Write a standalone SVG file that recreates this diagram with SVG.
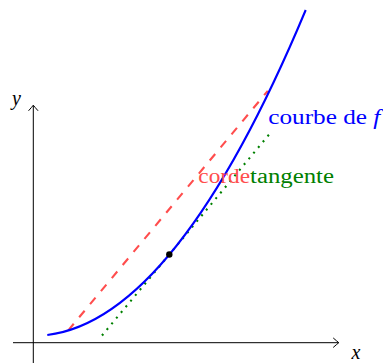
<svg xmlns="http://www.w3.org/2000/svg" width="383" height="363" viewBox="0 0 383 363">
  <style>
    .axis { stroke: #000; stroke-width: 1; fill: none; }
    .tip { stroke: #000; stroke-width: 1; fill: none; stroke-linecap: round; stroke-linejoin: round; }
    .lbl { font-family: "Liberation Serif", "Times New Roman", serif; font-size: 20px; }
    .it { font-style: italic; }
  </style>
  <rect width="383" height="363" fill="#fff"/>
  <g id="axes">
    <line class="axis" x1="13" y1="342.7" x2="338.5" y2="342.7"/>
    <path class="tip" d="M333.5,338.2 Q337,341.3 338.8,342.7 Q337,344.1 333.5,347.2"/>
    <line class="axis" x1="33.3" y1="363" x2="33.3" y2="105.5"/>
    <path class="tip" d="M28.8,110.5 Q31.9,107 33.3,105.2 Q34.7,107 37.8,110.5"/>
    <text class="lbl it" x="356" y="359" text-anchor="middle">x</text>
    <text class="lbl it" x="16.5" y="105" text-anchor="middle">y</text>
  </g>
  <g id="connectors">
    <path id="chord" d="M68.3,330.3 L267.8,90.8" stroke="#ff4d4d" stroke-width="2.1" stroke-dasharray="8.5 8.5" fill="none"/>
    <path id="tangent" d="M102,335.5 L269.5,134" stroke="#008000" stroke-width="2.1" stroke-dasharray="2 5.4" fill="none"/>
    <path id="curve" d="M47.3,335 Q176.5,319.1 305.7,10" stroke="#0000ff" stroke-width="2.1" fill="none"/>
  </g>
  <g id="point">
    <circle cx="169.3" cy="254.5" r="3.2" fill="#000"/>
  </g>
  <g id="labels">
    <text class="lbl" x="268.3" y="123.5" fill="#0000ff" textLength="112" lengthAdjust="spacingAndGlyphs">courbe de <tspan class="it">f</tspan></text>
    <text class="lbl" x="198.3" y="182.5" fill="#ff4d4d" textLength="51.7" lengthAdjust="spacingAndGlyphs">corde</text>
    <text class="lbl" x="250" y="182.5" fill="#008000" textLength="84" lengthAdjust="spacingAndGlyphs">tangente</text>
  </g>
</svg>
